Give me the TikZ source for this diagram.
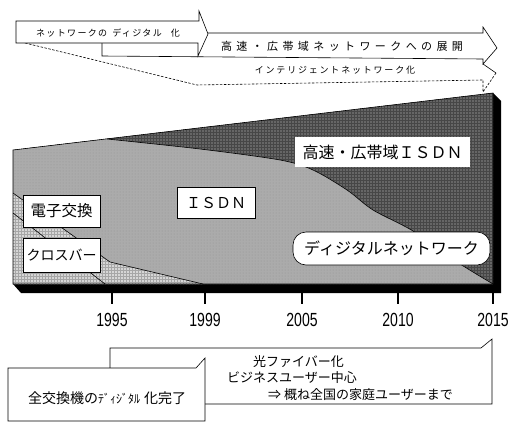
\documentclass[tikz,border=0pt]{standalone}
\usepackage{fontspec}
\usepackage{graphicx}
\newfontfamily\jp{Noto Sans CJK JP}
\newfontfamily\jpa[LetterSpace=15]{Noto Sans CJK JP}
\newfontfamily\jpb[LetterSpace=40]{Noto Sans CJK JP}
\newfontfamily\jpc[LetterSpace=20]{Noto Sans CJK JP}
\newfontfamily\yrfont{Liberation Sans}
\usetikzlibrary{patterns}
\begin{document}
\begin{tikzpicture}[x=1pt,y=-1pt,line join=miter,
  ln/.style={draw=black,line width=0.6pt},
  arrowbox/.style={ln,fill=white},
  dashln/.style={draw=black,line width=0.6pt,dash pattern=on 2.5pt off 1.5pt},
  darkfill/.style={fill=black!60},
  isdnfill/.style={fill=black!33},
  chkfill/.style={fill=black!16},
  lbl/.style={ln,fill=white,inner sep=0pt,text=black},
  toptext/.style={inner sep=0pt,text=black},
  yr/.style={inner sep=0pt,font=\yrfont\fontsize{19}{19}\selectfont},
  tick/.style={draw=black,line width=1.2pt},
  lowtext/.style={inner sep=0pt,font=\jp\fontsize{13}{13}\selectfont,anchor=west}]
\useasboundingbox (0,0) rectangle (510,423);

% ---------- top arrows ----------
\path[arrowbox] (102,33) -- (483,33) -- (483,27) -- (497,48) -- (483,64) -- (483,59) -- (102,56) -- cycle;
\draw[ln] (483,64) -- (496,73);
\draw[dashln] (496,73) -- (483,92) -- (483,80);
\draw[dashln] (25,43) -- (197,85) -- (483,80);
\path[arrowbox] (16,21) -- (199,21) -- (199,11) -- (208,34) -- (198,56) -- (198,43) -- (16,43) -- cycle;

\node[toptext,font=\jpa\fontsize{9}{9}\selectfont] (tA) at (108,33) {ネットワークの\hspace{5pt}ディジタル\hspace{9pt}化};
\node[toptext,font=\jpb\fontsize{11}{11}\selectfont] (tB) at (342,46) {高速・広帯域ネットワークへの展開};
\node[toptext,font=\jpc\fontsize{9}{9}\selectfont] (tC) at (335,70) {インテリジェントネットワーク化};

% ---------- chart ----------
\fill[black] (493,93) -- (501,101) -- (501,293) -- (21,293) -- (13,284) -- (493,284) -- cycle;
\path[darkfill] (13,150) -- (493,93) -- (493,284) -- (13,284) -- cycle;
\path[pattern=grid,pattern color=black!72] (13,150) -- (493,93) -- (493,284) -- (13,284) -- cycle;
\path[isdnfill] (13,150) -- plot[smooth,tension=0.5] coordinates {(107,139) (200,149) (280,160) (313,170) (347,190) (373,210) (413,231) (457,262) (493,284)} -- (13,284) -- cycle;
\path[pattern=dots,pattern color=black!42] (13,150) -- plot[smooth,tension=0.5] coordinates {(107,139) (200,149) (280,160) (313,170) (347,190) (373,210) (413,231) (457,262) (493,284)} -- (13,284) -- cycle;
\path[chkfill] (13,193) -- (110,262) -- (203,284) -- (13,284) -- cycle;
\path[pattern=grid,pattern color=black!35] (13,193) -- (110,262) -- (203,284) -- (13,284) -- cycle;
\draw[ln] plot[smooth,tension=0.5] coordinates {(107,139) (200,149) (280,160) (313,170) (347,190) (373,210) (413,231) (457,262) (493,284)};
\draw[ln] (13,193) -- (110,262) -- (203,284);
\draw[ln] (13,213) -- (105,284);
\draw[ln] (13,150) -- (493,93) -- (493,284) -- (13,284) -- cycle;

% labels in chart
\node[lbl,minimum width=77pt,minimum height=32pt,font=\jp\fontsize{15.5}{15.5}\selectfont] (den) at (61.5,211) {電子交換};
\node[lbl,minimum width=77pt,minimum height=34pt,font=\jp\fontsize{14}{14}\selectfont] (xb) at (61.5,255) {クロスバー};
\node[lbl,minimum width=78pt,minimum height=31pt,font=\jp\fontsize{15}{15}\selectfont] (isdn) at (216,202.5) {ＩＳＤＮ};
\node[inner sep=0pt,fill=white,minimum width=175pt,minimum height=30pt,font=\jp\fontsize{16}{16}\selectfont] (hs) at (382.5,152) {高速・広帯域ＩＳＤＮ};
\node[lbl,rounded corners=13pt,minimum width=197pt,minimum height=33pt,font=\jp\fontsize{16}{16}\selectfont] (dn) at (391.5,248.5) {ディジタルネットワーク};

% ticks and years
\draw[tick] (112,293) -- (112,304);
\draw[tick] (205,293) -- (205,304);
\draw[tick] (302,293) -- (302,304);
\draw[tick] (398,293) -- (398,304);
\draw[tick] (493,293) -- (493,304);
\node[yr] (y1) at (112,320) {\scalebox{0.74}[1]{1995}};
\node[yr] (y2) at (205,320) {\scalebox{0.74}[1]{1999}};
\node[yr] (y3) at (302,320) {\scalebox{0.74}[1]{2005}};
\node[yr] (y4) at (398,320) {\scalebox{0.74}[1]{2010}};
\node[yr] (y5) at (493,320) {\scalebox{0.74}[1]{2015}};

% ---------- lower boxes ----------
\path[arrowbox] (110,368) -- (110,348) -- (481,348) -- (492,339) -- (492,404) -- (205,404);
\path[arrowbox] (8,421) -- (8,368) -- (196,368) -- (205,358) -- (205,421) -- cycle;

\node[lowtext] (l1) at (253,362) {光ファイバー化};
\node[lowtext] (l2) at (227,378) {ビジネスユーザー中心};
\node[lowtext] (l3) at (268,395) {⇒ 概ね全国の家庭ユーザーまで};
\node[inner sep=0pt,font=\jp\fontsize{14}{14}\selectfont] (done) at (107,398) {全交換機の{\fontsize{12}{12}\selectfont ﾃﾞｨｼﾞﾀﾙ}\hspace{4pt}化完了};
\end{tikzpicture}
\end{document}
